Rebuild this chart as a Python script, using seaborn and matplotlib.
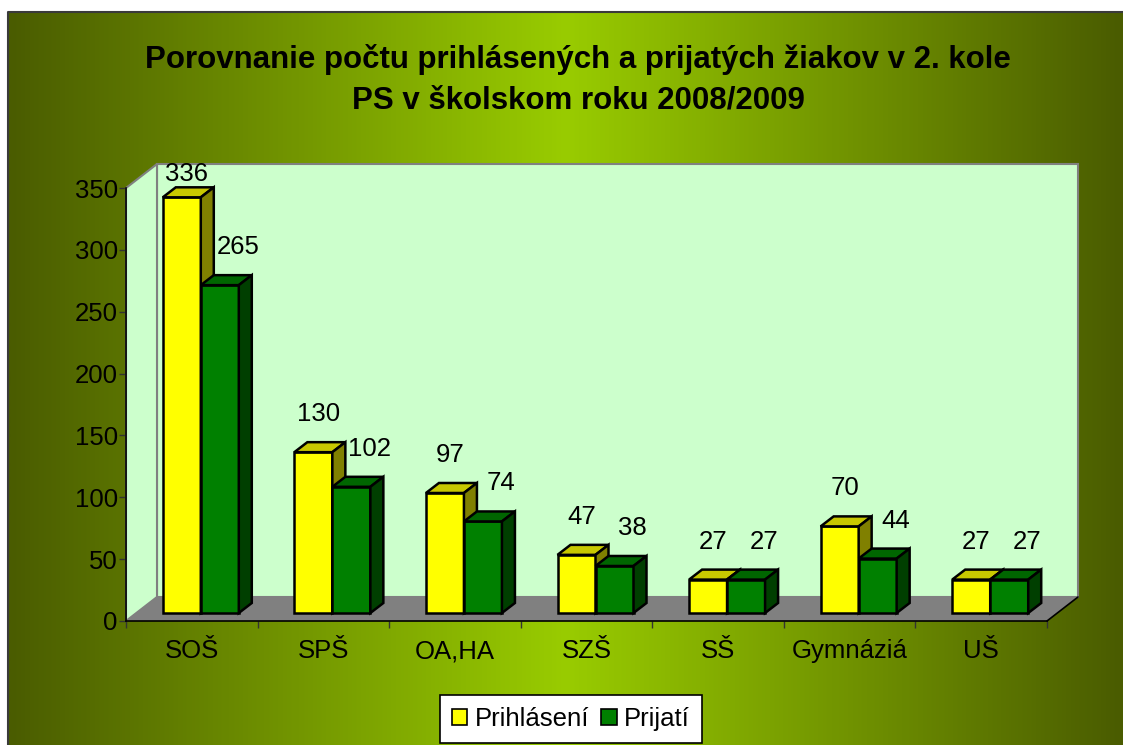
import numpy as np
import pandas as pd
import matplotlib
matplotlib.use('Agg')
import matplotlib.pyplot as plt
import matplotlib.transforms as mtransforms
from matplotlib.colors import LinearSegmentedColormap
from matplotlib.patches import Polygon, Patch
import seaborn as sns

# data
skoly = ['SOŠ', 'SPŠ', 'OA,HA', 'SZŠ', 'SŠ', 'Gymnáziá', 'UŠ']
prihlaseni = [336, 130, 97, 47, 27, 70, 27]
prijati = [265, 102, 74, 38, 27, 44, 27]
series_names = ['Prihlásení', 'Prijatí']
title = 'Porovnanie počtu prihlásených a prijatých žiakov v 2. kole\nPS v školskom roku 2008/2009'

df = pd.DataFrame({
    'skola': skoly * 2,
    'pocet': prihlaseni + prijati,
    'typ': [series_names[0]] * len(skoly) + [series_names[1]] * len(skoly),
})

sns.set_style('white')
plt.rcParams['font.family'] = ['Liberation Sans', 'DejaVu Sans']
plt.rcParams['text.color'] = 'black'
plt.rcParams['xtick.color'] = 'black'
plt.rcParams['ytick.color'] = 'black'
plt.rcParams['xtick.labelcolor'] = 'black'
plt.rcParams['ytick.labelcolor'] = 'black'

W, H = 1123, 745
fs = 18.5
fig = plt.figure(figsize=(W / 100, H / 100), dpi=100)
fig.patch.set_facecolor('white')

# background gradient panel
bg = fig.add_axes([8 / W, 0, 1 - 8 / W, (H - 12) / H], zorder=-5)
grad = np.linspace(0, 1, 512).reshape(1, -1)
cmap = LinearSegmentedColormap.from_list('olive', ['#4A5C00', '#99CC00', '#4A5C00'])
bg.imshow(grad, cmap=cmap, aspect='auto', extent=(0, 1, 0, 1))
bg.plot([0, 0, 1], [0, 1, 1], color='#3a3a3a', lw=1.5, transform=bg.transAxes, clip_on=False)
bg.set_axis_off()

# front plane of the 3D box
ax = fig.add_axes([126 / W, 124 / H, 921 / W, 433 / H])
ax.patch.set_visible(False)
n = len(skoly)
ymax = 350
ax.set_xlim(-0.5, n - 0.5)
ax.set_ylim(0, ymax)

ppx = 921 / n          # pixels per category
ppy = 433 / ymax       # pixels per unit
wall_dx, wall_dy = 31 / ppx, 24 / ppy
bar_dx, bar_dy = 13 / ppx, 10 / ppy
wall_c = '#CCFFCC'

# walls and floor
x0, x1 = -0.5, n - 0.5
ax.add_patch(Polygon([(x0 + wall_dx, wall_dy), (x0 + wall_dx, ymax + wall_dy),
                      (x1 + wall_dx, ymax + wall_dy), (x1 + wall_dx, wall_dy)],
                     facecolor=wall_c, edgecolor='#808080', lw=1.5, clip_on=False, zorder=0.5))
ax.add_patch(Polygon([(x0, 0), (x0, ymax), (x0 + wall_dx, ymax + wall_dy), (x0 + wall_dx, wall_dy)],
                     facecolor=wall_c, edgecolor='#808080', lw=1.5, clip_on=False, zorder=0.6))
ax.add_patch(Polygon([(x0, 0), (x1, 0), (x1 + wall_dx, wall_dy), (x0 + wall_dx, wall_dy)],
                     facecolor='#808080', edgecolor='none', clip_on=False, zorder=0.7))
ax.plot([x1, x1 + wall_dx], [0, wall_dy], color='black', lw=1.2, clip_on=False, zorder=0.8)

# bars
front = ['#FFFF00', '#008000']
top_c = ['#C8C800', '#006600']
side_c = ['#808000', '#003F00']
sns.barplot(data=df, x='skola', y='pocet', hue='typ', palette=front, saturation=1,
            width=76 / ppx, edgecolor='black', linewidth=1.8, legend=False, ax=ax)

bar_tr = ax.transData + mtransforms.ScaledTranslation(9 / 100, 8 / 100, fig.dpi_scale_trans)
bars = ax.patches[-2 * n:]
for i, p in enumerate(bars):
    s = i // n
    z = 3 + s
    p.set_transform(bar_tr)
    p.set_zorder(z)
    p.set_clip_on(False)
    bx, bw, bh = p.get_x(), p.get_width(), p.get_height()
    ax.add_patch(Polygon([(bx, bh), (bx + bw, bh), (bx + bw + bar_dx, bh + bar_dy), (bx + bar_dx, bh + bar_dy)],
                         facecolor=top_c[s], edgecolor='black', lw=1.8, transform=bar_tr,
                         clip_on=False, zorder=z))
    ax.add_patch(Polygon([(bx + bw, 0), (bx + bw, bh), (bx + bw + bar_dx, bh + bar_dy), (bx + bw + bar_dx, bar_dy)],
                         facecolor=side_c[s], edgecolor='black', lw=1.8, transform=bar_tr,
                         clip_on=False, zorder=z))
    lab_y = min(bh + 38 / ppy, 355)
    ax.annotate(f'{int(round(bh))}', (bx + bw / 2, lab_y), xycoords=bar_tr,
                xytext=((5 if s == 0 else 18) * 0.72, 0), textcoords='offset points',
                ha='center', va='center', fontsize=fs, color='black', zorder=6)

# axes styling
for side in ['top', 'right']:
    ax.spines[side].set_visible(False)
for side in ['left', 'bottom']:
    ax.spines[side].set_color('black')
    ax.spines[side].set_linewidth(1.2)
    ax.spines[side].set_zorder(2)
ax.set_yticks(np.arange(0, ymax + 1, 50))
ax.tick_params(axis='y', direction='out', length=5, width=1, color='#333333',
               labelsize=fs, pad=1, left=True)
ax.set_xticks(range(n))
ax.set_xticklabels(skoly)
ax.set_xticks(np.arange(-0.5, n, 1), minor=True)
ax.tick_params(axis='x', which='major', length=0, labelsize=fs, pad=13)
ax.tick_params(axis='x', which='minor', direction='out', length=5, width=1, color='#333333', bottom=True)
ax.set_xlabel('')
ax.set_ylabel('')

fig.text(578 / W, 1 - 80 / H, title, ha='center', va='center', fontsize=22.5,
         fontweight='bold', linespacing=1.45, color='black')

handles = [Patch(facecolor=c, edgecolor='black', linewidth=1.2) for c in front]
leg = fig.legend(handles, series_names, loc='center', bbox_to_anchor=(571 / W, 1 - 719 / H),
                 ncol=2, fontsize=fs, frameon=True, fancybox=False, framealpha=1,
                 edgecolor='black', handlelength=0.6, handleheight=0.6, handletextpad=0.3,
                 columnspacing=0.45, borderpad=0.45, borderaxespad=0)
leg.get_frame().set_linewidth(1.2)

fig.savefig('out.png', dpi=100, facecolor=fig.get_facecolor())
